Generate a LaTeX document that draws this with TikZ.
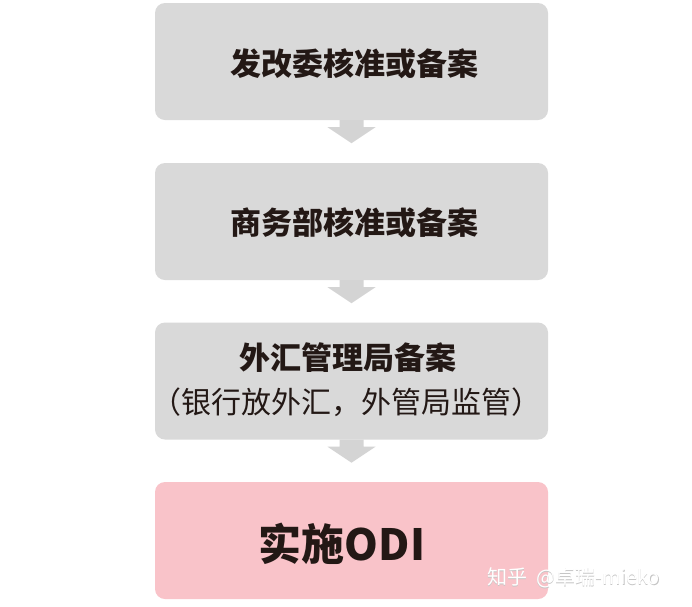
\documentclass[tikz,border=0pt]{standalone}
\usepackage{fontspec}
\setmainfont{Noto Sans CJK SC}
\definecolor{boxgray}{HTML}{D9D9D9}
\definecolor{boxpink}{HTML}{F9C3C9}
\definecolor{txt}{HTML}{231815}
\definecolor{arrowgray}{HTML}{D4D4D4}
\tikzset{
  stepbox/.style={fill=boxgray, rounded corners=10pt, minimum width=393pt, minimum height=117pt, inner sep=0pt, text=txt, align=center},
  boxtext/.style={text=txt, align=center, inner sep=0pt},
  downarrow/.style={fill=arrowgray},
}
\begin{document}
\begin{tikzpicture}[x=1pt,y=-1pt]
\useasboundingbox (0,0) rectangle (692,606);
\fill[white] (0,0) rectangle (692,606);
\node[stepbox] (b1) at (351.5,61.5) {};
\node[boxtext, font=\fontsize{31}{36}\selectfont\bfseries] (t1) at (354,64) {发改委核准或备案};
\node[stepbox] (b2) at (351.5,221.5) {};
\node[boxtext, font=\fontsize{31}{36}\selectfont\bfseries] (t2) at (354,223) {商务部核准或备案};
\node[stepbox] (b3) at (351.5,381) {};
\node[boxtext, font=\fontsize{31}{36}\selectfont\bfseries] (t3a) at (348,358) {外汇管理局备案};
\node[boxtext, font=\fontsize{30}{36}\selectfont] (t3b) at (346,402) {（银行放外汇，外管局监管）};
\node[stepbox, fill=boxpink] (b4) at (351.5,540.5) {};
\node[boxtext, font=\fontsize{43}{50}\selectfont\bfseries] (t4) at (342,544) {实施ODI};
\foreach \a/\b in {b1/b2, b2/b3, b3/b4}{
  \fill[downarrow] (\a.south) ++(-12,0) -- ++(0,7) -- ++(-12,0) -- ++(24,16) -- ++(24,-16) -- ++(-12,0) -- ++(0,-7) -- cycle;
}
\node[text=gray!45, anchor=west, inner sep=0pt] (wm) at (487.7,578.7) {\fontsize{20}{24}\selectfont 知乎\ \ @卓瑞-mieko};
\node[text=white, anchor=west, inner sep=0pt] (wm2) at (487,578) {\fontsize{20}{24}\selectfont 知乎\ \ @卓瑞-mieko};
\end{tikzpicture}
\end{document}
